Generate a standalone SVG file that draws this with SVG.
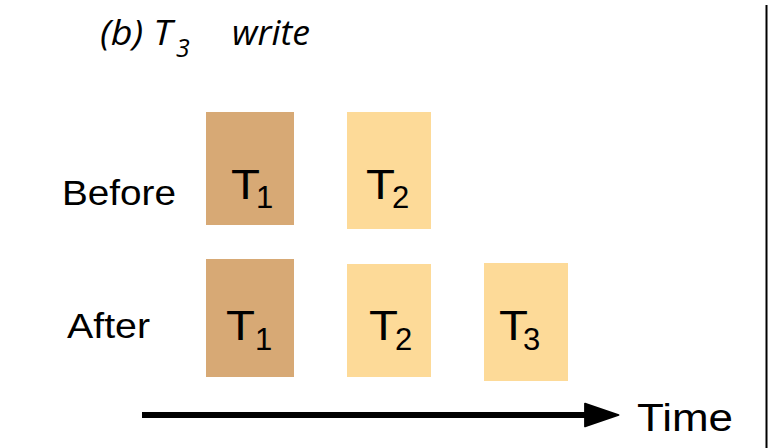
<svg xmlns="http://www.w3.org/2000/svg" width="768" height="448" viewBox="0 0 768 448">
<style>
.t{font-family:"Liberation Sans",Arial,sans-serif;fill:#000}
.ti{font-family:"Open Sans","Liberation Sans",Arial,sans-serif;font-style:italic;fill:#000}
.dark{fill:#D7A975}
.light{fill:#FDDA98}
.big{font-size:42px}
.sub{font-size:31px}
.lbl{font-size:35px}
</style>
<defs>
<marker id="ah" markerWidth="6" markerHeight="4.4" refX="0.2" refY="2.2" orient="auto" markerUnits="strokeWidth">
<path d="M0.2,0.3 L5.8,2.2 L0.2,4.1 Z" fill="#000" stroke="#000" stroke-width="0.3" stroke-linejoin="round"/>
</marker>
</defs>
<rect width="768" height="448" fill="#fff"/>
<g id="title">
<text class="ti" x="100" y="45" font-size="35" textLength="72" lengthAdjust="spacingAndGlyphs">(b) T</text>
<text class="ti" x="176" y="57" font-size="25">3</text>
<text class="ti" x="232" y="45" font-size="35" textLength="78" lengthAdjust="spacingAndGlyphs">write</text>
</g>
<g id="label-before"><text class="t lbl" x="62" y="205" textLength="114" lengthAdjust="spacingAndGlyphs">Before</text></g>
<g id="label-after"><text class="t lbl" x="67" y="338" textLength="83" lengthAdjust="spacingAndGlyphs">After</text></g>
<g id="before-t1">
<rect class="dark" x="206" y="112" width="88" height="113"/>
<text class="t big" x="231" y="199" textLength="29" lengthAdjust="spacingAndGlyphs">T</text>
<text class="t sub" x="256" y="208">1</text>
</g>
<g id="before-t2">
<rect class="light" x="347" y="112" width="84" height="117"/>
<text class="t big" x="366" y="199" textLength="29" lengthAdjust="spacingAndGlyphs">T</text>
<text class="t sub" x="392" y="208">2</text>
</g>
<g id="after-t1">
<rect class="dark" x="206" y="259" width="88" height="118"/>
<text class="t big" x="226" y="340" textLength="29" lengthAdjust="spacingAndGlyphs">T</text>
<text class="t sub" x="255" y="350">1</text>
</g>
<g id="after-t2">
<rect class="light" x="347" y="264" width="84" height="113"/>
<text class="t big" x="369" y="340" textLength="29" lengthAdjust="spacingAndGlyphs">T</text>
<text class="t sub" x="395" y="350">2</text>
</g>
<g id="after-t3">
<rect class="light" x="484" y="263" width="84" height="118"/>
<text class="t big" x="499" y="340" textLength="29" lengthAdjust="spacingAndGlyphs">T</text>
<text class="t sub" x="523" y="350">3</text>
</g>
<g id="connectors">
<line x1="142" y1="415" x2="585" y2="415" stroke="#000" stroke-width="6" marker-end="url(#ah)"/>
<line x1="766.5" y1="5" x2="766.5" y2="448" stroke="#000" stroke-width="2"/>
</g>
<g id="label-time"><text class="t" x="637" y="431" font-size="38" textLength="96" lengthAdjust="spacingAndGlyphs">Time</text></g>
</svg>
